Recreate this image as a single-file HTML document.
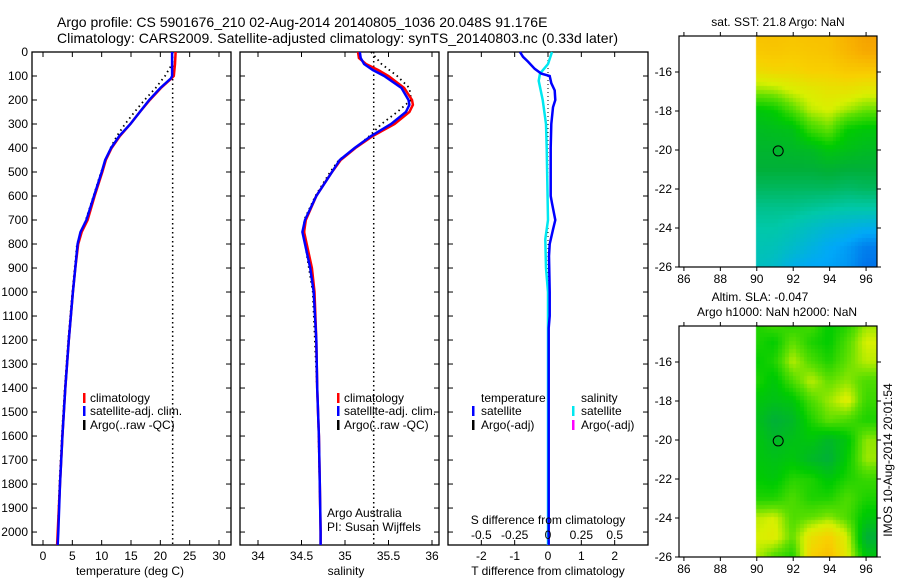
<!DOCTYPE html>
<html><head><meta charset="utf-8"><style>
body{margin:0;background:#fff;}
#wrap{position:relative;width:900px;height:580px;overflow:hidden;font-family:"Liberation Sans",sans-serif;}
canvas{position:absolute;}
svg{position:absolute;left:0;top:0;}
</style></head><body>
<div id="wrap">
<canvas id="sst" width="198" height="231" style="left:679px;top:36px"></canvas>
<canvas id="sla" width="198" height="231" style="left:679px;top:326px"></canvas>
<svg id="fig" width="900" height="580" font-family="Liberation Sans, sans-serif" font-size="12"></svg>
</div>
<script>
// ---- data ----
const depthT=[0,50,100,110,150,200,250,300,350,400,450,500,600,700,750,800,900,1000,1200,1400,1600,1800,2000,2054];
const tempSat=[22.0,22.0,22.0,21.8,20.0,18.1,16.5,14.9,13.0,11.6,10.6,10.0,8.7,7.4,6.4,5.9,5.5,5.1,4.4,3.8,3.3,2.9,2.6,2.5];
const tempClim=[22.6,22.5,22.3,21.9,20.1,18.2,16.5,14.9,13.1,11.7,10.7,10.1,8.8,7.6,6.6,6.0,5.5,5.1,4.4,3.8,3.3,2.9,2.5,2.4];
const depthArgoT=[0,50,100,150,200,250,300,350,400,500,600,700,800,1000,1200,1400,1600,1800,2000];
const tempArgo=[22.1,22.0,20.8,19.2,17.3,15.6,14.0,12.6,11.5,9.9,8.6,7.3,5.8,5.0,4.3,3.7,3.2,2.8,2.5];
const depthS=[0,25,50,75,100,150,200,220,250,300,350,400,450,500,600,700,750,800,900,1000,1200,1400,1600,1800,2000,2054];
const salSat=[35.17,35.18,35.22,35.32,35.45,35.65,35.73,35.74,35.7,35.53,35.3,35.11,34.94,34.85,34.67,34.54,34.51,34.54,34.6,34.64,34.67,34.68,34.7,34.71,34.72,34.72];
const salClim=[35.15,35.16,35.24,35.38,35.5,35.68,35.77,35.78,35.74,35.57,35.32,35.12,34.95,34.85,34.67,34.55,34.53,34.56,34.62,34.65,34.67,34.68,34.7,34.71,34.72,34.72];
const depthArgoS=[0,50,100,150,200,250,300,350,400,450,500,600,700,800,1000,1500,2000];
const salArgo=[35.3,35.42,35.6,35.74,35.76,35.6,35.42,35.28,35.12,34.93,34.83,34.66,34.53,34.54,34.63,34.69,34.72];
const depthTD=[0,20,40,70,90,100,130,160,200,230,300,400,600,630,700,740,800,850,1000,1100,1150,2054];
const tDiff=[-0.84,-0.75,-0.6,-0.4,-0.2,0.05,0.1,0.2,0.22,0.15,0.1,0.08,0.08,0.12,0.22,0.15,0.05,0.03,0.05,0.05,0.02,0.02];
const depthSD=[0,50,90,120,200,300,400,700,780,900,1000,2054];
const sDiff=[0.03,0,-0.06,-0.07,-0.04,-0.015,-0.01,0,-0.02,-0.015,0,0];
const sstLon=[90,91,92,93,94,95,96];
const sstLat=[-14,-15,-16,-17,-18,-19,-20,-21,-22,-23,-24,-25,-26];
const sstGrid=[
[.85,.85,.84,.85,.85,.9,.95],[.82,.83,.82,.83,.84,.88,.92],[.76,.78,.78,.8,.8,.82,.82],
[.65,.66,.7,.72,.74,.74,.72],[.5,.52,.6,.68,.7,.66,.62],[.46,.47,.48,.58,.62,.52,.5],
[.44,.44,.45,.46,.5,.48,.46],[.42,.42,.42,.42,.43,.42,.42],[.38,.38,.38,.38,.38,.37,.38],
[.33,.33,.33,.32,.31,.3,.3],[.3,.3,.28,.25,.22,.2,.18],[.28,.27,.24,.2,.16,.13,.08],[.26,.24,.18,.15,.14,.12,.06]];
const slaGrid=[
[.55,.6,.55,.6,.52,.55,.65],[.55,.52,.62,.55,.52,.6,.7],[.52,.55,.68,.6,.55,.62,.68],
[.55,.5,.6,.68,.62,.65,.6],[.5,.48,.5,.6,.66,.72,.58],[.48,.42,.45,.55,.62,.6,.55],
[.5,.45,.48,.5,.45,.5,.65],[.5,.48,.5,.45,.42,.52,.66],[.52,.5,.56,.55,.5,.55,.58],
[.55,.55,.6,.55,.55,.6,.55],[.68,.7,.6,.62,.65,.6,.5],[.7,.72,.62,.75,.8,.7,.42],[.68,.6,.55,.8,.85,.72,.5]];
const depthTicks=[0,100,200,300,400,500,600,700,800,900,1000,1100,1200,1300,1400,1500,1600,1700,1800,1900,2000];
const tempTicks=[0,5,10,15,20,25,30];
const salTicks=[34,34.5,35,35.5,36];
const tdTicks=[-2,-1,0,1,2];
const sdTicks=[-0.5,-0.25,0,0.25,0.5];
const lonTicks=[86,88,90,92,94,96];
const latTicks=[-16,-18,-20,-22,-24,-26];

const NS="http://www.w3.org/2000/svg";
const svg=document.getElementById('fig');
function el(tag,attrs,parent){const e=document.createElementNS(NS,tag);for(const k in attrs)e.setAttribute(k,attrs[k]);(parent||svg).appendChild(e);return e;}
function txt(s,x,y,anchor,size,parent){const t=el('text',{x:x,y:y,'text-anchor':anchor||'middle','dominant-baseline':'central','font-size':size||12},parent);t.textContent=s;return t;}
const Y0=52,Y1=545,DMAX=2054;
function yD(d){return Y0+(Y1-Y0)*d/DMAX;}
function lin(a,b,p,q){return v=>p+(q-p)*(v-a)/(b-a);}
const xT=lin(0,30,43,219), xS=lin(34,36,258,432), xTD=lin(-3,3,448,648), xSD=lin(-0.75,0.75,448,648);
function pts(xs,ds,fx){return xs.map((v,i)=>fx(v).toFixed(1)+','+yD(ds[i]).toFixed(1)).join(' ');}

function panel(name,x0,x1,fx,ticks,labels){
  const g=el('g',{});
  
  
  el('rect',{x:x0,y:Y0,width:x1-x0,height:Y1-Y0,fill:'none',stroke:'#000','stroke-width':1.3},g);
  depthTicks.forEach(d=>{const y=yD(d);el('line',{x1:x0,x2:x0+5,y1:y,y2:y,stroke:'#000'},g);el('line',{x1:x1-5,x2:x1,y1:y,y2:y,stroke:'#000'},g);});
  ticks.forEach(v=>{const x=fx(v);el('line',{x1:x,x2:x,y1:Y0,y2:Y0+5,stroke:'#000'},g);el('line',{x1:x,x2:x,y1:Y1-5,y2:Y1,stroke:'#000'},g);if(labels)txt(String(v),x,556,'middle',12,g);});
  return g;
}
function line(g,name,xs,ds,fx,col,w,dash){const p=el('polyline',{points:pts(xs,ds,fx),fill:'none',stroke:col,'stroke-width':w,'stroke-dasharray':dash||'none'},g);return p;}
function legendMark(g,x,y,col){el('rect',{x:x,y:y-5,width:2.5,height:10,fill:col},g);}

const t1=txt('Argo profile: CS 5901676_210 02-Aug-2014 20140805_1036 20.048S 91.176E',57,22,'start',14);

const t2=txt('Climatology: CARS2009. Satellite-adjusted climatology: synTS_20140803.nc (0.33d later)',57,38,'start',14);
t2.setAttribute('textLength','561');


depthTicks.forEach(d=>{const t=txt(String(d),28,yD(d),'end',12);});

const p1=panel('temperature-panel',32,231,xT,tempTicks,true);
el('line',{x1:xT(22.1),x2:xT(22.1),y1:Y0,y2:Y1,stroke:'#000','stroke-width':1.5,'stroke-dasharray':'1.5,3'},p1);
line(p1,'argo-temperature-line',tempArgo,depthArgoT,xT,'#000',1.8,'1.5,3.5');
line(p1,'climatology-temperature-line',tempClim,depthT,xT,'#f00',2.5);
line(p1,'satellite-temperature-line',tempSat,depthT,xT,'#00f',2.5);
txt('temperature (deg C)',130,571,'middle',12,p1);
legendMark(p1,83,398,'#f00');txt('climatology',90,398,'start',12,p1);
legendMark(p1,83,411,'#00f');txt('satellite-adj. clim.',90,411,'start',12,p1);
legendMark(p1,83,425,'#000');txt('Argo(..raw -QC)',90,425,'start',12,p1);

const p2=panel('salinity-panel',240,439,xS,salTicks,true);
el('line',{x1:xS(35.33),x2:xS(35.33),y1:Y0,y2:Y1,stroke:'#000','stroke-width':1.5,'stroke-dasharray':'1.5,3'},p2);
line(p2,'argo-salinity-line',salArgo,depthArgoS,xS,'#000',1.8,'1.5,3.5');
line(p2,'climatology-salinity-line',salClim,depthS,xS,'#f00',2.5);
line(p2,'satellite-salinity-line',salSat,depthS,xS,'#00f',2.5);
txt('salinity',346,571,'middle',12,p2);
legendMark(p2,337,398,'#f00');txt('climatology',344,398,'start',12,p2);
legendMark(p2,337,411,'#00f');txt('satellite-adj. clim.',344,411,'start',12,p2);
legendMark(p2,337,425,'#000');txt('Argo(..raw -QC)',344,425,'start',12,p2);
txt('Argo Australia',327,513,'start',12,p2);
txt('PI: Susan Wijffels',327,527,'start',12,p2);

const p3=panel('difference-panel',448,648,xTD,tdTicks,true);
el('line',{x1:xTD(0),x2:xTD(0),y1:Y0,y2:Y1,stroke:'#000','stroke-width':1,'stroke-dasharray':'1,3'},p3);
line(p3,'salinity-difference-line',sDiff,depthSD,xSD,'#00e8f0',2.5);
line(p3,'temperature-difference-line',tDiff,depthTD,xTD,'#00f',2.5);
sdTicks.forEach(v=>txt(String(v),xSD(v),535,'middle',12,p3));
txt('S difference from climatology',548,520,'middle',12,p3);
txt('T difference from climatology',548,571,'middle',12,p3);
txt('temperature',481,398,'start',12,p3);
legendMark(p3,472,411,'#00f');txt('satellite',481,411,'start',12,p3);
legendMark(p3,472,425,'#000');txt('Argo(-adj)',481,425,'start',12,p3);
txt('salinity',581,398,'start',12,p3);
legendMark(p3,572,411,'#00e8f0');txt('satellite',581,411,'start',12,p3);
legendMark(p3,572,425,'#f0f');txt('Argo(-adj)',581,425,'start',12,p3);

const stops=[[0,[0,80,224]],[0.15,[0,168,248]],[0.3,[0,200,168]],[0.42,[0,176,56]],[0.52,[0,204,0]],[0.62,[96,224,0]],[0.7,[216,240,0]],[0.8,[248,208,0]],[0.9,[248,176,0]],[1,[240,144,0]]];
function cmap(v){v=Math.max(0,Math.min(1,v));for(let i=1;i<stops.length;i++){if(v<=stops[i][0]){const a=stops[i-1],b=stops[i],f=(v-a[0])/(b[0]-a[0]);return 'rgb('+a[1].map((c,k)=>Math.round(c+(b[1][k]-c)*f)).join(',')+')';}}return 'rgb(240,144,0)';}
function interp(grid,lon,lat){
  let fi=(-14-lat);fi=Math.max(0,Math.min(sstLat.length-1.001,fi));
  let fj=(lon-90);fj=Math.max(0,Math.min(sstLon.length-1.001,fj));
  const i=Math.floor(fi),j=Math.floor(fj),a=fi-i,b=fj-j;
  return grid[i][j]*(1-a)*(1-b)+grid[i+1][j]*a*(1-b)+grid[i][j+1]*(1-a)*b+grid[i+1][j+1]*a*b;
}
const lonL=85.73,lonR=96.6,latT=-14.15,latB=-26.0;
function drawMap(id,grid){
  const c=document.getElementById(id).getContext('2d');
  const W=198,H=231,cw=3.64,ch=3.9;
  const mx=lin(lonL,lonR,0,W),my=lin(latT,latB,0,H);
  for(let lon=90;lon<lonR;lon+=0.2){for(let lat=latT;lat>latB-0.2;lat-=0.2){
    c.fillStyle=cmap(interp(grid,lon+0.1,lat-0.1));
    c.fillRect(Math.floor(mx(lon)),Math.floor(my(lat)),Math.ceil(cw)+1,Math.ceil(ch)+1);
  }}
  c.clearRect(0,0,Math.floor(mx(90)),H);
}
drawMap('sst',sstGrid);drawMap('sla',slaGrid);

function mapAxes(name,top,bot){
  const g=el('g',{});
  
  
  const mx=lin(lonL,lonR,679,877),my=lin(-16,-26,top+36,bot);
  el('rect',{x:679,y:top,width:198,height:bot-top,fill:'none',stroke:'#000','stroke-width':1.2},g);
  lonTicks.forEach(v=>{const x=mx(v);el('line',{x1:x,x2:x,y1:top-4,y2:top,stroke:'#000'},g);el('line',{x1:x,x2:x,y1:bot,y2:bot+4,stroke:'#000'},g);txt(String(v),x,bot+12,'middle',12,g);});
  latTicks.forEach(v=>{const y=my(v);el('line',{x1:675,x2:679,y1:y,y2:y,stroke:'#000'},g);el('line',{x1:877,x2:881,y1:y,y2:y,stroke:'#000'},g);txt(String(v),672,y,'end',12,g);});
  const c=el('circle',{cx:mx(91.176),cy:my(-20.048),r:5,fill:'none',stroke:'#000','stroke-width':1},g);
  
  return g;
}
const m1=mapAxes('sst-map-axes',36,267);
txt('sat. SST: 21.8 Argo: NaN',778,22,'middle',12,m1);
const m2=mapAxes('sla-map-axes',326,557);
txt('Altim. SLA: -0.047',760,297,'middle',12,m2);
txt('Argo h1000: NaN h2000: NaN',777,312,'middle',12,m2);
const rt=txt('IMOS 10-Aug-2014 20:01:54',0,0,'middle',12);
rt.setAttribute('transform','translate(888,460) rotate(-90)');

</script>
</body></html>
